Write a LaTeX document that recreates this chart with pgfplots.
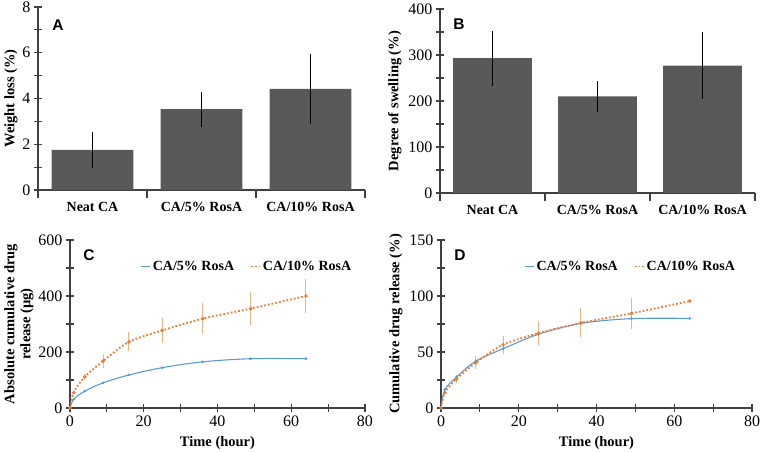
\documentclass[border=0pt]{standalone}
\usepackage{pgfplots}
\pgfplotsset{compat=1.18}
\usepackage{fontspec}
\setmainfont{Liberation Serif}
\setsansfont{Liberation Sans}
\definecolor{bargray}{HTML}{595959}
\definecolor{axgray}{HTML}{404040}
\definecolor{xlblue}{HTML}{5B9BD5}
\definecolor{xlorange}{HTML}{ED7D31}
\definecolor{errorange}{HTML}{F4B183}
\pgfplotsset{
  common/.style={
    scale only axis,
    anchor=south west,
    axis x line=bottom, axis y line=left,
    axis line style={-, axgray, line width=1.1pt},
    every tick/.style={axgray, line width=1.1pt},
    tick align=center,
    major tick length=8pt, minor tick length=8pt,
    /pgf/number format/assume math mode=true,
    tick label style={font=\fontsize{16}{18}\selectfont},
    label style={font=\fontsize{14.5}{16}\selectfont\bfseries},
    clip=false,
  },
  barplot/.style={
    common,
    ybar, bar width=0.75,
    xmin=-0.5, xmax=2.5, ymin=0,
    xtick={-0.5,0.5,1.5,2.5}, xticklabels={},
    extra x ticks={0,1,2},
    extra x tick labels={Neat CA, CA/5\% RosA, CA/10\% RosA},
    extra x tick style={major tick length=0pt, tick label style={font=\fontsize{14}{16}\selectfont\bfseries, yshift=-9pt}},
    minor y tick num=1,
  },
  lineplot/.style={
    common,
    xmin=0, xmax=80, ymin=0,
    xtick={0,20,...,80}, minor x tick num=1, minor y tick num=1,
    xlabel style={yshift=-3pt},
    legend style={draw=none, fill=none, legend columns=2,
      font=\fontsize{14}{16}\selectfont\bfseries,
      /tikz/every even column/.append style={column sep=14pt}},
    legend image code/.code={\draw[#1] (0pt,0pt) -- (9pt,0pt);},
  },
}
\begin{document}
\begin{tikzpicture}
\useasboundingbox (0,0) rectangle (760pt,452pt);
% Panel A
\begin{axis}[barplot, at={(38pt,262pt)}, width=327pt, height=183pt,
  ymax=8, ytick={0,2,4,6,8}, ylabel={Weight loss (\%)}, ylabel style={yshift=-2pt}]
\addplot[fill=bargray, draw=none,
  error bars/.cd, y dir=both, y explicit, error mark=none,
  error bar style={black, line width=1.1pt}]
  coordinates {(0,1.75) +- (0,0.77) (1,3.53) +- (0,0.77) (2,4.42) +- (0,1.53)};
\end{axis}
\node[font=\sffamily\bfseries\fontsize{15.5}{17}\selectfont] at (58pt,427pt) {A};
% Panel B
\begin{axis}[barplot, at={(440pt,259pt)}, width=315pt, height=184pt,
  ymax=400, ytick={0,100,200,300,400}, ylabel={Degree of swelling (\%)}]
\addplot[fill=bargray, draw=none,
  error bars/.cd, y dir=both, y explicit, error mark=none,
  error bar style={black, line width=1.1pt}]
  coordinates {(0,293) +- (0,60) (1,210) +- (0,33) (2,277) +- (0,72)};
\end{axis}
\node[font=\sffamily\bfseries\fontsize{15.5}{17}\selectfont] at (459pt,428pt) {B};
% Panel C
\begin{axis}[lineplot, at={(70pt,44pt)}, width=295pt, height=168pt,
  ymax=600, ytick={0,200,400,600},
  xlabel={Time (hour)},
  ylabel={Absolute cumulative drug\\release (\textmu g)},
  ylabel style={align=center, yshift=-2pt},
  legend style={at={(0.6,0.9)}, anchor=north}]
\addplot[xlblue, line width=1.1pt, smooth, mark=*, mark size=0.7pt]
  coordinates {(0,0) (1,31) (4,60) (9,90) (16,118)
   (25,144) (36,165) (49,176) (64,176)};
\addlegendentry{CA/5\% RosA}
\addplot[xlorange, line width=1.8pt, dotted, smooth, mark=*, mark size=0.7pt,
  mark options={solid},
  error bars/.cd, y dir=both, y explicit, error mark=none,
  error bar style={errorange, line width=1pt, solid}]
  coordinates {(0,0) (1,55) +- (0,5) (4,111) +- (0,12) (9,168) +- (0,24) (16,236) +- (0,34)
   (25,277) +- (0,44) (36,319) +- (0,55) (49,355) +- (0,59) (64,400) +- (0,60)};
\addlegendentry{CA/10\% RosA}
\end{axis}
\node[font=\sffamily\bfseries\fontsize{15.5}{17}\selectfont] at (89pt,197pt) {C};
% Panel D
\begin{axis}[lineplot, at={(441pt,44pt)}, width=311pt, height=168pt,
  ymax=150, ytick={0,50,100,150},
  xlabel={Time (hour)},
  ylabel={Cumulative drug release (\%)},
  legend style={at={(0.61,0.9)}, anchor=north}]
\addplot[xlblue, line width=1.1pt, smooth, mark=*, mark size=0.7pt]
  coordinates {(0,0) (1,16.5) (4,27.7) (9,42) (16,53) (25,65.8) (36,75.6) (49,79.8) (64,80)};
\addlegendentry{CA/5\% RosA}
\addplot[xlorange, line width=1.8pt, dotted, smooth, mark=*, mark size=0.7pt,
  mark options={solid},
  error bars/.cd, y dir=both, y explicit, error mark=none,
  error bar style={errorange, line width=1pt, solid}]
  coordinates {(0,0) (1,13.7) +- (0,1) (4,26) +- (0,3.7) (9,40.5) +- (0,5.8) (16,56.5) +- (0,7.9)
   (25,66.7) +- (0,10.6) (36,76) +- (0,13) (49,84.5) +- (0,13.8) (64,95.5) +- (0,0)};
\addlegendentry{CA/10\% RosA}
\end{axis}
\node[font=\sffamily\bfseries\fontsize{15.5}{17}\selectfont] at (460pt,197pt) {D};
\end{tikzpicture}
\end{document}
